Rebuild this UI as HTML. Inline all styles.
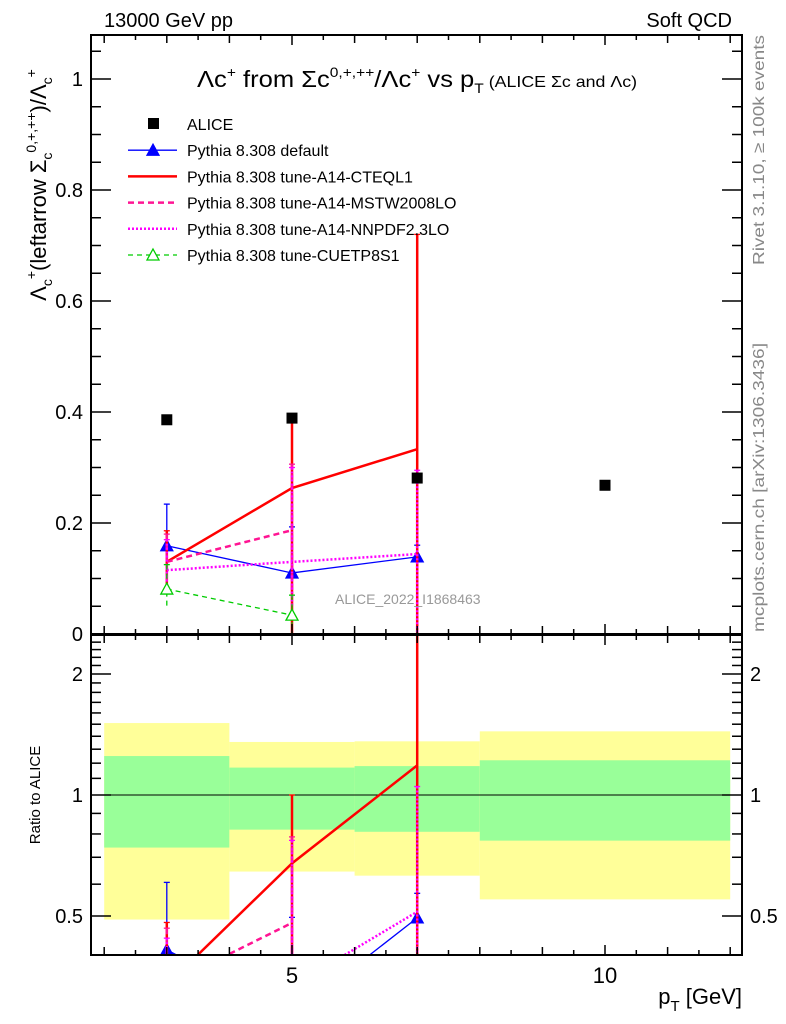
<!DOCTYPE html>
<html><head><meta charset="utf-8"><style>
html,body{margin:0;padding:0;background:#fff;width:786px;height:1024px;overflow:hidden}
svg{display:block;font-family:"Liberation Sans",sans-serif}
</style></head><body>
<svg id="c" width="786" height="1024" viewBox="0 0 786 1024" xmlns="http://www.w3.org/2000/svg">
<defs>
<clipPath id="cm"><rect x="91" y="35" width="651" height="599"/></clipPath>
<clipPath id="cr"><rect x="91" y="635" width="651" height="320"/></clipPath>
</defs>
<g id="bands" clip-path="url(#cr)"></g>
<g id="main" clip-path="url(#cm)"></g>
<g id="ratio" clip-path="url(#cr)"></g>
<g id="axes"></g>
<text x="104" y="27" font-size="20">13000 GeV pp</text>
<text x="732" y="27" font-size="20" text-anchor="end">Soft QCD</text>
<text x="197" y="87" font-size="23" textLength="440" lengthAdjust="spacingAndGlyphs">Λc<tspan font-size="14" dy="-10">+</tspan><tspan dy="10"> from Σc</tspan><tspan font-size="14" dy="-10">0,+,++</tspan><tspan dy="10">/Λc</tspan><tspan font-size="14" dy="-10">+</tspan><tspan dy="10"> vs p</tspan><tspan font-size="14" dy="6">T</tspan><tspan font-size="16" dy="-6"> (ALICE Σc and Λc)</tspan></text>
<text transform="translate(46,185) rotate(-90)" font-size="22" text-anchor="middle">Λ<tspan font-size="14" dy="6">c</tspan><tspan font-size="14" dy="-16">+</tspan><tspan dy="10">(leftarrow Σ</tspan><tspan font-size="14" dy="6">c</tspan><tspan font-size="14" dy="-16">0,+,++</tspan><tspan dy="10">)/Λ</tspan><tspan font-size="14" dy="6">c</tspan><tspan font-size="14" dy="-16">+</tspan></text>
<text transform="translate(40,795) rotate(-90)" font-size="15" text-anchor="middle">Ratio to ALICE</text>
<text x="742" y="1004" font-size="22" text-anchor="end">p<tspan font-size="15" dy="7">T</tspan><tspan dy="-7"> [GeV]</tspan></text>
<text transform="translate(764,265) rotate(-90)" font-size="16" fill="#888" textLength="230" lengthAdjust="spacingAndGlyphs">Rivet 3.1.10, ≥ 100k events</text>
<text transform="translate(764,632) rotate(-90)" font-size="16" fill="#888" textLength="289" lengthAdjust="spacingAndGlyphs">mcplots.cern.ch [arXiv:1306.3436]</text>
<text x="335" y="604" font-size="14" fill="#999">ALICE_2022_I1868463</text>
<g id="legend"></g>
</svg>
<script>
const xs=[3,5,7,10];
const aliceVals=[0.386,0.389,0.281,0.268];
const binEdges=[2,4,6,8,12];
const bandYellowHi=[1.51,1.355,1.36,1.44];
const bandYellowLo=[0.49,0.645,0.63,0.55];
const bandGreenHi=[1.25,1.17,1.18,1.22];
const bandGreenLo=[0.74,0.82,0.81,0.77];
const defX=[3,5,7], defVals=[0.159,0.110,0.139], defUp=[0.234,0.193,0.16], defDn=[0.09,0.07,0.12];
const cteqX=[3,5,7], cteqVals=[0.130,0.263,0.333], cteqUp=[0.186,0.389,0.72], cteqDn=[0.08,0,0];
const mstwX=[3,5], mstwVals=[0.130,0.187], mstwUp=[0.18,0.306], mstwDn=[0.08,0.07];
const nnX=[3,5,7], nnVals=[0.115,0.130,0.144], nnUp=[0.17,0.30,0.295], nnDn=[0.07,0.05,0];
const cueX=[3,5], cueVals=[0.081,0.034], cueUp=[0.125,0.07], cueDn=[0.045,0];
const yTicks=[0,0.2,0.4,0.6,0.8,1];
const yTickLabels=["0","0.2","0.4","0.6","0.8","1"];
const rTicks=[0.5,1,2], rTickLabels=["0.5","1","2"];
const xTicks=[5,10], xTickLabels=["5","10"];

const NS="http://www.w3.org/2000/svg";
const X=v=>292+(v-5)*62.6;
const Y=v=>634-v*555;
const R=v=>795-Math.log10(v)*402;
function mk(parent,tag,attrs){const e=document.createElementNS(NS,tag);for(const k in attrs)e.setAttribute(k,attrs[k]);document.getElementById(parent).appendChild(e);return e;}

for(let i=0;i<bandYellowHi.length;i++){
 const x0=X(binEdges[i]),x1=X(binEdges[i+1]);
 let e=mk('bands','rect',{x:x0,y:R(bandYellowHi[i]),width:x1-x0,height:R(bandYellowLo[i])-R(bandYellowHi[i]),fill:'#ffff99'});
 
 
 e=mk('bands','rect',{x:x0,y:R(bandGreenHi[i]),width:x1-x0,height:R(bandGreenLo[i])-R(bandGreenHi[i]),fill:'#99ff99'});
 
 
}
let ln=mk('bands','line',{x1:91,x2:742,y1:R(1),y2:R(1),stroke:'#000','stroke-width':1});



const series=[
 {name:'default',x:defX,v:defVals,up:defUp,dn:defDn,c:'#0000ff',w:1.3,d:'',m:'tri'},
 {name:'cteql1',x:cteqX,v:cteqVals,up:cteqUp,dn:cteqDn,c:'#ff0000',w:2.5,d:'',m:''},
 {name:'mstw2008lo',x:mstwX,v:mstwVals,up:mstwUp,dn:mstwDn,c:'#ff1493',w:2.5,d:'6,4',m:''},
 {name:'nnpdf23lo',x:nnX,v:nnVals,up:nnUp,dn:nnDn,c:'#ff00ff',w:2.5,d:'2,2',m:''},
 {name:'cuetp8s1',x:cueX,v:cueVals,up:cueUp,dn:cueDn,c:'#00cc00',w:1.3,d:'5,4',m:'otri'}
];
function tri(g,cx,cy,c,open){
 const e=mk(g,'path',{d:`M${cx},${cy-6}L${cx+6},${cy+5}L${cx-6},${cy+5}Z`,fill:open?'#fff':c,stroke:c,'stroke-width':1.3});
 
 
}
function drawSeries(g,s,ratio){
 const yf=ratio?R:Y;
 const val=(arr,i)=>{if(!ratio)return arr[i];const a=aliceVals[xs.indexOf(s.x[i])];return Math.max(arr[i],1e-3)/a;};
 const pts=s.x.map((x,i)=>X(x)+','+yf(val(s.v,i))).join(' ');
 let e=mk(g,'polyline',{points:pts,fill:'none',stroke:s.c,'stroke-width':s.w,'stroke-dasharray':s.d});
 
 
 s.x.forEach((x,i)=>{
  const yu=yf(val(s.up,i)),yd=s.dn[i]<=0?(ratio?960:640):yf(val(s.dn,i));
  const eb=mk(g,'line',{x1:X(x),x2:X(x),y1:yu,y2:yd,stroke:s.c,'stroke-width':s.w>2?2.5:1.3,'stroke-dasharray':s.d});
  
  
  const cap=mk(g,'line',{x1:X(x)-3,x2:X(x)+3,y1:yu,y2:yu,stroke:s.c,'stroke-width':1.3});
  
  
  if(s.m)tri(g,X(x),yf(val(s.v,i)),s.c,s.m==='otri');
 });
}
series.forEach(s=>drawSeries('main',s,false));
series.forEach(s=>drawSeries('ratio',s,true));
xs.forEach((x,i)=>{
 const e=mk('main','rect',{x:X(x)-5.5,y:Y(aliceVals[i])-5.5,width:11,height:11,fill:'#000'});
 
 
});

[[35,634],[635,955]].forEach(([t,b])=>{
 const f=mk('axes','rect',{x:91,y:t,width:651,height:b-t,fill:'none',stroke:'#000','stroke-width':2});
 
 
});
function tick(x1,y1,x2,y2){const e=mk('axes','line',{x1,y1,x2,y2,stroke:'#000','stroke-width':1.5});}
function label(x,y,t,anchor,size){const e=mk('axes','text',{x,y,'font-size':size,'text-anchor':anchor});e.textContent=t;}
for(let v=2;v<=12.01;v+=0.5){
 const L=xTicks.includes(v)?10:(v%1===0?8:5);
 const x=X(v);
 [[35,1],[634,-1],[635,1],[955,-1]].forEach(([y,d])=>tick(x,y,x,y+d*L));
}
xTicks.forEach((v,i)=>label(X(v),983,xTickLabels[i],'middle',22));
for(let v=0;v<=1.071;v+=0.05){
 const r=Math.round(v*100)%20===0;const L=r?20:10;const y=Y(v);
 tick(91,y,91+L,y);tick(742,y,742-L,y);
}
yTicks.forEach((v,i)=>label(83,Y(v)+7,yTickLabels[i],'end',20));
for(let k=4;k<=25;k++){
 const v=k/10;const maj=rTicks.includes(v);const L=maj?20:10;const y=R(v);
 if(y<636||y>954)continue;
 tick(91,y,91+L,y);tick(742,y,742-L,y);
}
rTicks.forEach((v,i)=>{label(83,R(v)+7,rTickLabels[i],'end',20);label(750,R(v)+7,rTickLabels[i],'start',20);});

const legNames=["ALICE","Pythia 8.308 default","Pythia 8.308 tune-A14-CTEQL1","Pythia 8.308 tune-A14-MSTW2008LO","Pythia 8.308 tune-A14-NNPDF2.3LO","Pythia 8.308 tune-CUETP8S1"];
legNames.forEach((n,i)=>{
 const y=124+i*26.2;
 const t=mk('legend','text',{x:187,y:y+6,'font-size':16});t.textContent=n;
 
 
 if(i===0){const r=mk('legend','rect',{x:148,y:y-6,width:11,height:11,fill:'#000'});}
 else{const s=series[i-1];const l=mk('legend','line',{x1:128,x2:177,y1:y,y2:y,stroke:s.c,'stroke-width':s.w,'stroke-dasharray':s.d});
  
  
  if(s.m)tri('legend',153,y,s.c,s.m==='otri');}
});
</script>
</body></html>
